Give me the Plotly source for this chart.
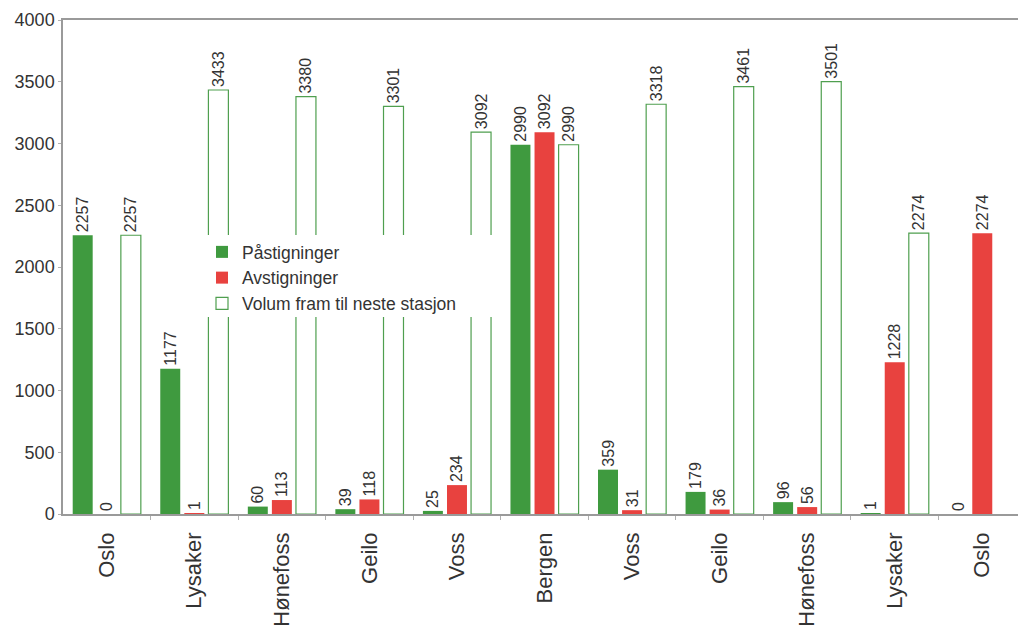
import plotly.graph_objects as go

stations = ["Oslo", "Lysaker", "Hønefoss", "Geilo", "Voss", "Bergen",
            "Voss", "Geilo", "Hønefoss", "Lysaker", "Oslo"]
pastigninger = [2257, 1177, 60, 39, 25, 2990, 359, 179, 96, 1, 0]
avstigninger = [0, 1, 113, 118, 234, 3092, 31, 36, 56, 1228, 2274]
volum = [2257, 3433, 3380, 3301, 3092, 2990, 3318, 3461, 3501, 2274, None]
y_ticks = [0, 500, 1000, 1500, 2000, 2500, 3000, 3500, 4000]

x = list(range(len(stations)))
FONT = "Arial, Liberation Sans, sans-serif"

def labels(vals):
    return ["" if v is None else str(v) for v in vals]

fig = go.Figure()
common = dict(textposition="outside", textangle=-90, constraintext="none",
              cliponaxis=False,
              textfont=dict(family=FONT, size=16, color="#333333"))
fig.add_trace(go.Bar(name="Påstigninger", x=x, y=pastigninger,
                     text=labels(pastigninger),
                     marker=dict(color="#3f9a3f", line=dict(width=0)), **common))
fig.add_trace(go.Bar(name="Avstigninger", x=x, y=avstigninger,
                     text=labels(avstigninger),
                     marker=dict(color="#e8423f", line=dict(width=0)), **common))
fig.add_trace(go.Bar(name="Volum fram til neste stasjon", x=x, y=volum,
                     text=labels(volum),
                     marker=dict(color="white", line=dict(color="#4f9f4f", width=1.2)),
                     **common))

W, H = 1018, 633
ml, mr, mt, mb = 63, 0, 20, 119
pw = W - ml - mr
ph = H - mt - mb

def px_x(p):
    return (p - ml) / pw

def px_y(p):
    return (H - mb - p) / ph

fig.update_layout(
    width=W, height=H,
    margin=dict(l=ml, r=mr, t=mt, b=mb, pad=0),
    paper_bgcolor="white", plot_bgcolor="white",
    barmode="group", bargap=0.175, bargroupgap=0.17,
    font=dict(family=FONT, color="#333333"),
    showlegend=True,
    legend=dict(x=px_x(202), y=px_y(234), xanchor="left", yanchor="top",
                bgcolor="rgba(0,0,0,0)", borderwidth=0,
                font=dict(family=FONT, size=17.5, color="#333333"),
                tracegroupgap=4),
    shapes=[dict(type="rect", xref="paper", yref="paper",
                 x0=px_x(205), x1=px_x(497), y0=px_y(317), y1=px_y(235),
                 fillcolor="white", line=dict(width=0), layer="above")],
    xaxis=dict(range=[-0.5, -0.5 + pw / 87.55], tickmode="array",
               tickvals=x, ticktext=stations, tickangle=-90,
               tickfont=dict(family=FONT, size=22, color="#333333"),
               showgrid=False, zeroline=False,
               showline=True, linecolor="#9a9a9a", linewidth=1.5, mirror=True,
               ticks="", ticklabelstandoff=8,
               minor=dict(tickvals=[i + 0.5 for i in x[:-1]], ticks="outside",
                          ticklen=4, tickcolor="#b0b0b0", showgrid=False)),
    yaxis=dict(range=[0, 4000], tickmode="array", tickvals=y_ticks,
               tickfont=dict(family=FONT, size=18, color="#333333"),
               showgrid=False, zeroline=False,
               showline=True, linecolor="#9a9a9a", linewidth=1.5,
               ticks="outside", ticklen=3, tickcolor="#b0b0b0"),
)

fig.write_html("out.html")
